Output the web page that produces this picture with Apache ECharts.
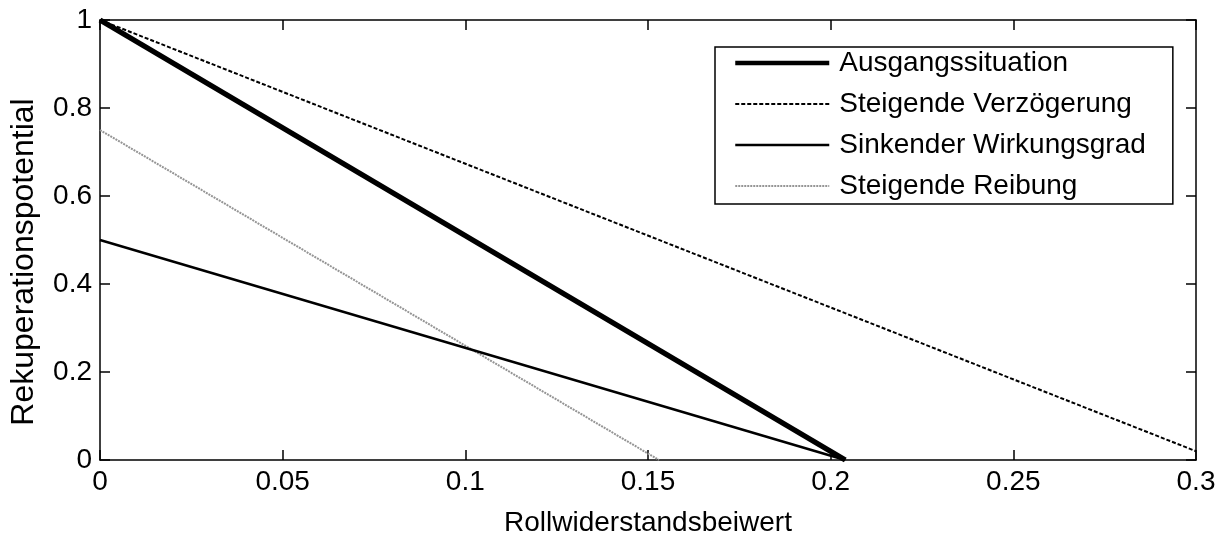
<!DOCTYPE html>
<html>
<head>
<meta charset="utf-8">
<script src="https://cdn.jsdelivr.net/npm/echarts@6/dist/echarts.min.js"></script>
<style>html,body{margin:0;padding:0;background:#fff;}#c{width:1229px;height:535px;}</style>
</head>
<body>
<div id="c"></div>
<script>
var seriesNames = ['Ausgangssituation', 'Steigende Verzögerung', 'Sinkender Wirkungsgrad', 'Steigende Reibung'];
var ausgangssituation = [[0, 1], [0.204, 0]];
var steigendeVerzoegerung = [[0, 1], [0.3, 0.02]];
var sinkenderWirkungsgrad = [[0, 0.5], [0.204, 0]];
var steigendeReibung = [[0, 0.75], [0.153, 0]];
var xTicks = [0, 0.05, 0.1, 0.15, 0.2, 0.25, 0.3];
var yTicks = [0, 0.2, 0.4, 0.6, 0.8, 1];

var FONT = 'Liberation Sans, Arial, sans-serif';
var chart = echarts.init(document.getElementById('c'), null, {renderer: 'canvas'});
var axisLine = {show: true, onZero: false, lineStyle: {color: '#000', width: 1.5}};
var tick = {show: true, inside: true, length: 10, lineStyle: {color: '#000', width: 1.5}};
function fmt(v) { return String(+v.toFixed(2)); }

var styles = [
  {color: '#000', width: 5.5, type: 'solid'},
  {color: '#000', width: 2, type: [4, 2]},
  {color: '#000', width: 2.4, type: 'solid'},
  {color: '#959595', width: 2, type: [2, 1]}
];
var datas = [ausgangssituation, steigendeVerzoegerung, sinkenderWirkungsgrad, steigendeReibung];

var series = [];
for (var i = 3; i >= 0; i--) {
  series.push({
    name: seriesNames[i], type: 'line', data: datas[i], symbol: 'none',
    xAxisIndex: i === 3 ? 1 : 0, yAxisIndex: i === 3 ? 1 : 0,
    lineStyle: styles[i], itemStyle: {color: styles[i].color}
  });
}

chart.setOption({
  animation: false,
  backgroundColor: '#fff',
  grid: {left: 100, right: 33, top: 20, bottom: 75, containLabel: false, outerBoundsMode: 'none'},
  legend: {
    orient: 'vertical', left: 715, top: 47,
    data: seriesNames.map(function (n, i) {
      return {name: n, itemStyle: {opacity: 0}, lineStyle: {width: i === 0 ? 4.5 : styles[i].width, type: styles[i].type, color: styles[i].color}};
    }),
    itemWidth: 94, itemHeight: 28, itemGap: 13,
    padding: [2, 27, 4, 18],
    borderColor: '#000', borderWidth: 1.5, backgroundColor: '#fff',
    textStyle: {fontFamily: FONT, fontSize: 28, color: '#000', lineHeight: 28, padding: [0, 0, 0, 5]},
    selectedMode: false
  },
  xAxis: [{
    type: 'value', min: 0, max: 0.3, interval: 0.05,
    name: 'Rollwiderstandsbeiwert', nameLocation: 'middle', nameGap: 49,
    nameTextStyle: {fontFamily: FONT, fontSize: 28, color: '#000'},
    axisLine: axisLine, axisTick: tick, splitLine: {show: false},
    axisLabel: {fontFamily: FONT, fontSize: 28, color: '#000', margin: 8,
      formatter: function (v) { return fmt(v); }}
  }, {
    type: 'value', min: 0, max: 0.3, interval: 0.05, position: 'top', show: true,
    axisLine: axisLine, axisTick: tick, splitLine: {show: false}, axisLabel: {show: false}
  }],
  yAxis: [{
    type: 'value', min: 0, max: 1, interval: 0.2,
    name: 'Rekuperationspotential', nameLocation: 'middle', nameGap: 60,
    nameTextStyle: {fontFamily: FONT, fontSize: 32, color: '#000', padding: [0, 44, 0, 0]},
    axisLine: axisLine, axisTick: tick, splitLine: {show: false},
    axisLabel: {fontFamily: FONT, fontSize: 28, color: '#000', margin: 8,
      formatter: function (v) { return fmt(v); }}
  }, {
    type: 'value', min: 0, max: 1, interval: 0.2, position: 'right', show: true,
    axisLine: axisLine, axisTick: tick, splitLine: {show: false}, axisLabel: {show: false}
  }],
  series: series
});
</script>
</body>
</html>
